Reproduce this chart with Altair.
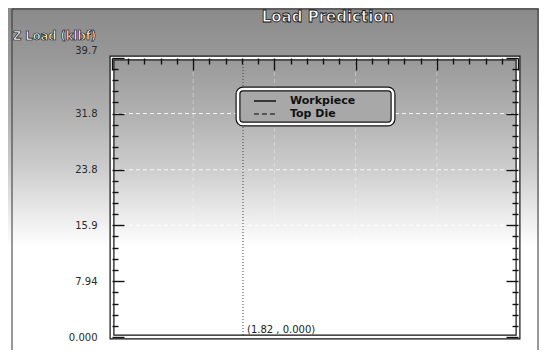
import altair as alt
import pandas as pd

# ---------------- data ----------------
x_vals = [0.0, 0.25, 0.5, 0.75, 1.0, 1.25, 1.5, 1.82, 2.0, 2.5, 3.0, 3.5, 4.0, 4.5, 5.0, 5.52]
workpiece = [0.0, 0.0, 0.0, 0.0, 0.0, 0.0, 0.0, 0.0, 0.0, 0.0, 0.0, 0.0, 0.0, 0.0, 0.0, 0.0]
top_die = [0.0, 0.0, 0.0, 0.0, 0.0, 0.0, 0.0, 0.0, 0.0, 0.0, 0.0, 0.0, 0.0, 0.0, 0.0, 0.0]
series_names = ["Workpiece", "Top Die"]

y_major = [0.0, 7.94, 15.9, 23.8, 31.8, 39.7]
y_labels = ["0.000", "7.94", "15.9", "23.8", "31.8", "39.7"]
x_major = [0.0, 1.128, 2.256, 3.384, 4.512, 5.64]

cursor_x = [1.82]
cursor_y = [0.0]

title_text = "Load Prediction"
y_title_text = "Z Load (klbf)"

# ---------------- tables ----------------
rows = []
for name, vals in zip(series_names, [workpiece, top_die]):
    for xv, yv in zip(x_vals, vals):
        rows.append({"x": xv, "value": yv, "series": name})
df = pd.DataFrame(rows)

cur = pd.DataFrame({"x": cursor_x, "value": cursor_y,
                    "label": [f"({cx:.2f} , {cy:.3f})" for cx, cy in zip(cursor_x, cursor_y)]})
one = pd.DataFrame({"a": [0]})
ygrid = pd.DataFrame({"value": y_major[1:-1]})
xgrid = pd.DataFrame({"x": x_major[1:-1]})


def minors(major, n=5):
    out = []
    for a, b in zip(major[:-1], major[1:]):
        for k in range(n):
            out.append(a if k == 0 else round(a + (b - a) * k / n, 4))
    out.append(major[-1])
    return out


y_minor = minors(y_major)
x_minor = minors(x_major)

W, H = 406, 279
PAD = {"left": 104, "top": 50, "right": 21, "bottom": 13}

y_major_js = "[" + ",".join(str(v) for v in y_major) + "]"
x_major_js = "[" + ",".join(str(v) for v in x_major) + "]"

label_expr = ""
for v, t in zip(y_major, y_labels):
    label_expr += f"abs(datum.value - {v}) < 0.001 ? '{t}' : "
label_expr += "''"

FONT = "DejaVu Sans"

xscale = alt.Scale(domain=[0, 5.64], nice=False, zero=False)
yscale = alt.Scale(domain=[0, 39.7], nice=False)


def tick_axis(orient, offset, values, major_js, **kw):
    return alt.Axis(
        orient=orient, offset=offset, values=values, labels=False, domain=False,
        grid=False, title=None, ticks=True, tickColor="#111111", tickWidth=1.4,
        tickSize={"condition": {"test": f"indexof({major_js}, datum.value) >= 0", "value": 12}, "value": 6},
        zindex=1, **kw)


# ---------------- layers ----------------
gradient = alt.Gradient(
    gradient="linear", x1=0, x2=0, y1=0, y2=1,
    stops=[
        alt.GradientStop(offset=0.0, color="#8a8a8a"),
        alt.GradientStop(offset=0.15, color="#999999"),
        alt.GradientStop(offset=0.33, color="#b4b4b4"),
        alt.GradientStop(offset=0.47, color="#cdcdcd"),
        alt.GradientStop(offset=0.59, color="#e8e8e8"),
        alt.GradientStop(offset=0.70, color="#ffffff"),
        alt.GradientStop(offset=1.0, color="#ffffff"),
    ])

bg = alt.Chart(one).mark_rect(fill=gradient).encode(
    x=alt.value(-PAD["left"]), x2=alt.value(W + PAD["right"]),
    y=alt.value(-PAD["top"]), y2=alt.value(H + PAD["bottom"]))

window_left = alt.Chart(one).mark_rule(color="#333333", strokeWidth=1).encode(
    x=alt.value(-100), y=alt.value(-49), y2=alt.value(H + 13))
window_right = alt.Chart(one).mark_rule(color="#333333", strokeWidth=1).encode(
    x=alt.value(W + 20), y=alt.value(-49), y2=alt.value(H + 13))
window_top = alt.Chart(one).mark_rule(color="#333333", strokeWidth=1).encode(
    x=alt.value(-100), x2=alt.value(W + 20), y=alt.value(-49))

frame_dark = alt.Chart(one).mark_rect(fillOpacity=0, stroke="#111111", strokeWidth=5).encode(
    x=alt.value(0), x2=alt.value(W), y=alt.value(0), y2=alt.value(H))
frame_light = alt.Chart(one).mark_rect(fillOpacity=0, stroke="#ffffff", strokeWidth=2.6).encode(
    x=alt.value(0), x2=alt.value(W), y=alt.value(0), y2=alt.value(H))

leg_dark = alt.Chart(one).mark_rect(fill="#a8a8a8", stroke="#111111", strokeWidth=5, cornerRadius=5).encode(
    x=alt.value(126), x2=alt.value(281), y=alt.value(31), y2=alt.value(66))
leg_light = alt.Chart(one).mark_rect(fillOpacity=0, stroke="#ffffff", strokeWidth=2.6, cornerRadius=5).encode(
    x=alt.value(126), x2=alt.value(281), y=alt.value(31), y2=alt.value(66))

legend = alt.Legend(
    orient="none", legendX=145.5, legendY=35.5, title=None,
    symbolType="M-1.7,0H1.7", symbolSize=169, symbolStrokeWidth=1.5,
    labelOffset=17.5, rowPadding=0, padding=0,
    labelFont=FONT, labelFontSize=11, labelFontWeight="bold", labelColor="#111111")

label_axis = alt.Axis(
    orient="left", values=y_major, labelExpr=label_expr, ticks=False, tickSize=0,
    domain=False, labelPadding=15, labelFont=FONT, labelFontSize=10,
    labelColor="#2a2a2a", title=None, grid=False, zindex=1,
    labelOffset={"condition": {"test": "datum.value > 39", "value": -8}, "value": 0})

grid_y = alt.Chart(ygrid).mark_rule(color="#ffffff", strokeDash=[4, 3], opacity=0.85).encode(
    y=alt.Y("value:Q", scale=yscale, axis=None))
grid_x = alt.Chart(xgrid).mark_rule(color="#ffffff", strokeDash=[4, 3], opacity=0.35).encode(
    x=alt.X("x:Q", scale=xscale, axis=None))

lines = alt.Chart(df).mark_line(strokeWidth=1.5).encode(
    x=alt.X("x:Q", scale=xscale, axis=tick_axis("bottom", -H, x_minor, x_major_js)),
    y=alt.Y("value:Q", scale=yscale, axis=label_axis),
    color=alt.Color("series:N", scale=alt.Scale(domain=series_names, range=["#111111", "#3a3a3a"]),
                    legend=legend),
    strokeDash=alt.StrokeDash("series:N", scale=alt.Scale(domain=series_names, range=[[1, 0], [5, 3]]),
                              legend=legend),
)

ticks_left = alt.Chart(df).mark_line(opacity=0).encode(
    x=alt.X("x:Q", scale=xscale, axis=None),
    y=alt.Y("value:Q", scale=yscale, axis=tick_axis("right", -W, y_minor, y_major_js)),
)
ticks_right = alt.Chart(df).mark_line(opacity=0).encode(
    x=alt.X("x:Q", scale=xscale, axis=None),
    y=alt.Y("value:Q", scale=yscale, axis=tick_axis("left", -W, y_minor, y_major_js)),
)

cursor_rule = alt.Chart(cur).mark_rule(color="#444444", strokeDash=[1, 2], strokeWidth=1).encode(
    x=alt.X("x:Q", scale=xscale, axis=None))

cursor_text = alt.Chart(cur).mark_text(
    align="left", baseline="bottom", dx=4, dy=-2, font=FONT, fontSize=10, color="#222222").encode(
    x=alt.X("x:Q", scale=xscale, axis=None),
    y=alt.Y("value:Q", scale=yscale, axis=None),
    text="label:N")

title = alt.Chart(one).mark_text(
    text=title_text, font=FONT, fontSize=15, fontWeight="bold", fill="#ffffff",
    stroke="#111111", strokeWidth=0.8, align="center", baseline="middle").encode(
    x=alt.value(216), y=alt.value(-41))

ytitle = alt.Chart(one).mark_text(
    text=y_title_text, font=FONT, fontSize=11.5, fontWeight="bold", fill="#ffffff",
    stroke="#111111", strokeWidth=0.7, align="left", baseline="middle").encode(
    x=alt.value(-99), y=alt.value(-21))

chart = alt.layer(
    bg, window_left, window_right, window_top, grid_y, grid_x, cursor_rule, lines,
    ticks_left, ticks_right, frame_dark, frame_light, leg_dark, leg_light,
    cursor_text, title, ytitle
).resolve_axis(x="independent", y="independent").properties(
    width=W, height=H, padding=PAD, autosize=alt.AutoSizeParams(type="none"),
    background="#ffffff"
).configure_view(stroke=None)

chart.save("out.html", embed_options={"renderer": "svg", "actions": False})
